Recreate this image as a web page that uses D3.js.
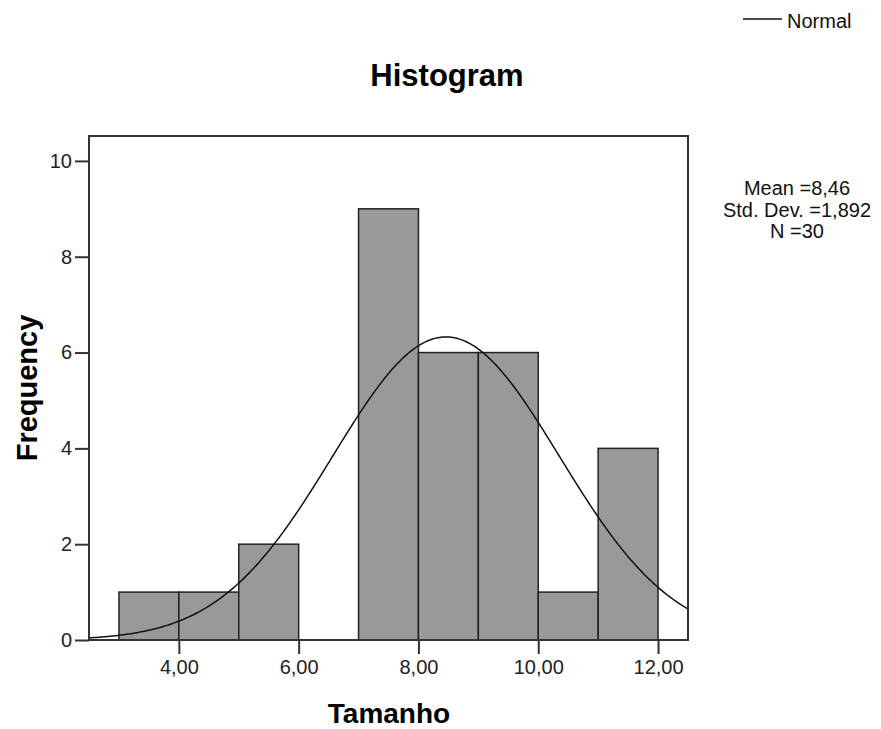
<!DOCTYPE html>
<html>
<head>
<meta charset="utf-8">
<script src="https://cdn.jsdelivr.net/npm/d3@7"></script>
<style>
  html, body { margin: 0; padding: 0; background: #fff; }
  svg { display: block; font-family: Arial, "Liberation Sans", sans-serif; }
</style>
</head>
<body>
<svg id="chart" width="881" height="729"></svg>
<script>
// Histogram bins (lower edge, upper edge) and their counts
const binStarts = [3, 4, 5, 6, 7, 8, 9, 10, 11];
const binEnds   = [4, 5, 6, 7, 8, 9, 10, 11, 12];
const counts    = [1, 1, 2, 0, 9, 6, 6, 1, 4];

// Summary statistics for the fitted normal curve
const meanValue = 8.46;
const stdDev = 1.892;
const sampleSize = 30;
const binWidth = 1;

// Axis ticks
const xTicks = [4, 6, 8, 10, 12];
const yTicks = [0, 2, 4, 6, 8, 10];

// Text
const chartTitle = "Histogram";
const xTitle = "Tamanho";
const yTitle = "Frequency";
const legendLabel = "Normal";
const statsLines = ["Mean =8,46", "Std. Dev. =1,892", "N =30"];

const svg = d3.select("#chart");
const plot = { left: 89, right: 688, top: 136, bottom: 640 };

const x = d3.scaleLinear().domain([2.5, 12.5]).range([plot.left, plot.right]);
const y = d3.scaleLinear().domain([0, 10.52]).range([plot.bottom, plot.top]);

const fmtX = v => d3.format(".2f")(v).replace(".", ",");

// Bars
const bins = binStarts.map((s, i) => ({ x0: s, x1: binEnds[i], n: counts[i] }));
svg.append("g").selectAll("rect")
  .data(bins.filter(d => d.n > 0))
  .join("rect")
  .attr("x", d => x(d.x0))
  .attr("y", d => y(d.n))
  .attr("width", d => x(d.x1) - x(d.x0))
  .attr("height", d => y(0) - y(d.n))
  .attr("fill", "#999999")
  .attr("stroke", "#222")
  .attr("stroke-width", 1.5);

// Normal curve scaled to counts
const pdf = v => Math.exp(-0.5 * ((v - meanValue) / stdDev) ** 2) / (stdDev * Math.sqrt(2 * Math.PI));
const curvePts = d3.range(0, 401).map(i => {
  const v = 2.5 + i * (10 / 400);
  return [v, sampleSize * binWidth * pdf(v)];
});
svg.append("path")
  .datum(curvePts)
  .attr("fill", "none")
  .attr("stroke", "#111")
  .attr("stroke-width", 1.5)
  .attr("d", d3.line().x(d => x(d[0])).y(d => y(d[1])));

// Frame
svg.append("rect")
  .attr("x", plot.left).attr("y", plot.top)
  .attr("width", plot.right - plot.left).attr("height", plot.bottom - plot.top)
  .attr("fill", "none").attr("stroke", "#333").attr("stroke-width", 2);

// Y axis
const yAxis = d3.axisLeft(y).tickValues(yTicks).tickSize(14).tickPadding(3).tickFormat(d3.format("d"));
const gy = svg.append("g").attr("transform", `translate(${plot.left},0)`).call(yAxis);
gy.select(".domain").remove();
gy.selectAll(".tick line").attr("stroke", "#333").attr("stroke-width", 2);
gy.selectAll(".tick text").attr("fill", "#222").style("font-size", "20px")
  .style("font-family", "Arial, 'Liberation Sans', sans-serif");

// X axis
const xAxis = d3.axisBottom(x).tickValues(xTicks).tickSize(14).tickPadding(6).tickFormat(fmtX);
const gx = svg.append("g").attr("transform", `translate(0,${plot.bottom})`).call(xAxis);
gx.select(".domain").remove();
gx.selectAll(".tick line").attr("stroke", "#333").attr("stroke-width", 2);
gx.selectAll(".tick text").attr("fill", "#222").style("font-size", "20px")
  .style("font-family", "Arial, 'Liberation Sans', sans-serif");

// Titles
svg.append("text")
  .attr("x", 447).attr("y", 86)
  .attr("text-anchor", "middle")
  .style("font-size", "31px").style("font-weight", "bold")
  .text(chartTitle);

svg.append("text")
  .attr("x", 389).attr("y", 723)
  .attr("text-anchor", "middle")
  .style("font-size", "28px").style("font-weight", "bold")
  .text(xTitle);

svg.append("text")
  .attr("transform", "translate(37,388) rotate(-90)")
  .attr("text-anchor", "middle")
  .style("font-size", "29px").style("font-weight", "bold")
  .text(yTitle);

// Legend
svg.append("line")
  .attr("x1", 743).attr("x2", 782).attr("y1", 19).attr("y2", 19)
  .attr("stroke", "#111").attr("stroke-width", 1.5);
svg.append("text")
  .attr("x", 787).attr("y", 28)
  .style("font-size", "20px").attr("fill", "#111")
  .text(legendLabel);

// Statistics block
svg.append("g").selectAll("text")
  .data(statsLines)
  .join("text")
  .attr("x", 797)
  .attr("y", (d, i) => 195 + i * 21.5)
  .attr("text-anchor", "middle")
  .style("font-size", "20px").attr("fill", "#111")
  .text(d => d);
</script>
</body>
</html>
